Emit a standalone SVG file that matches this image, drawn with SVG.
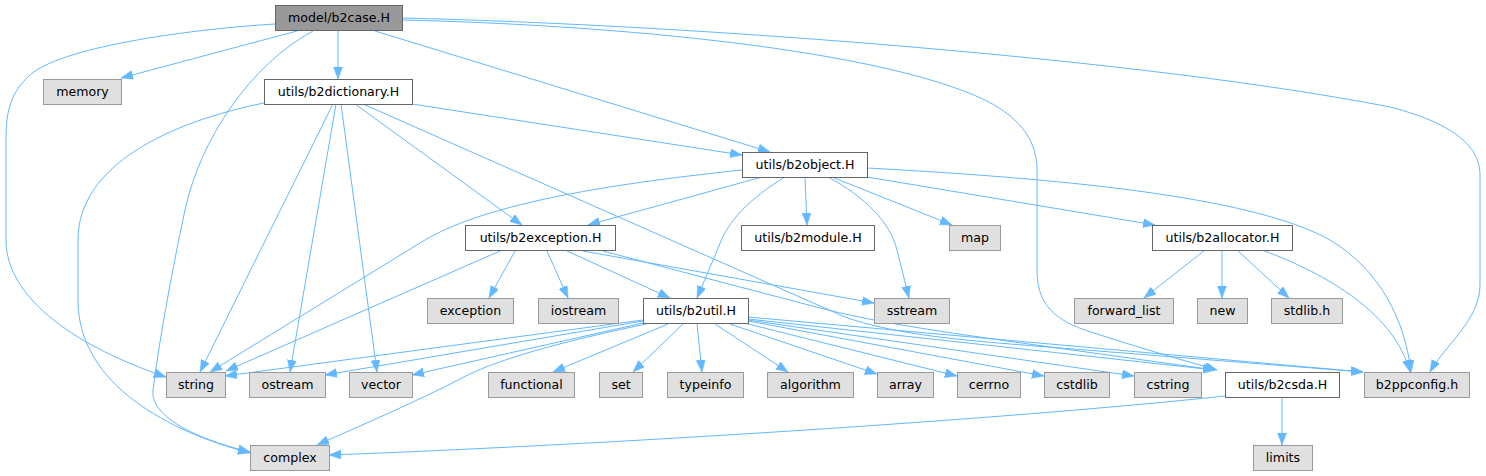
<svg xmlns="http://www.w3.org/2000/svg" width="1486" height="476" viewBox="0 0 1486 476">
<style>
.n rect{stroke-width:1}
.int rect{fill:#ffffff;stroke:#666666}
.ext rect{fill:#e0e0e0;stroke:#999999}
.root rect{fill:#999999;stroke:#666666}
text{font-family:"DejaVu Sans","Liberation Sans",sans-serif;font-size:12.6px;fill:#000000;text-anchor:middle}
#edges path{fill:none;stroke:#63b8ff;stroke-width:1;marker-end:url(#arr)}
</style>
<defs>
<marker id="arr" markerUnits="userSpaceOnUse" markerWidth="13" markerHeight="10" refX="12" refY="4.5" orient="auto">
<path d="M0,0 L12,4.5 L0,9 z" fill="#63b8ff" stroke="#63b8ff" stroke-width="0.5"/>
</marker>
</defs>
<rect width="1486" height="476" fill="#ffffff"/>
<g id="edges">
<path d="M297,31 L121,78"/>
<path d="M338,31 L338,79"/>
<path d="M275,24 C180,30 60,48 30,75 C10,93 6,112 6,140 L6,240 C6,300 80,348 166,377"/>
<path d="M313,31 C250,65 200,140 185,210 C170,280 158,350 153,390 C150,418 200,440 250,452"/>
<path d="M375,31 L770,152"/>
<path d="M402,20 C620,25 880,50 985,100 C1025,120 1037,145 1037,170 L1037,270 C1037,300 1050,318 1085,330 C1130,345 1175,358 1217,370"/>
<path d="M402,18 C700,25 1150,60 1390,107 C1460,125 1480,150 1480,175 L1480,285 C1480,320 1445,345 1430,372"/>
<path d="M264,103 C170,122 78,165 78,240 L78,300 C78,385 170,432 250,453"/>
<path d="M333,104 L200,372"/>
<path d="M336,104 L290,372"/>
<path d="M341,104 L377,372"/>
<path d="M355,104 L522,225"/>
<path d="M412,104 L742,155"/>
<path d="M363,104 L845,317 C890,333 950,339 1010,344 L1363,372"/>
<path d="M742,170 C600,185 480,205 420,243 L210,372"/>
<path d="M762,177 L588,225"/>
<path d="M785,177 C750,198 727,222 719,246 L697,298"/>
<path d="M805,177 L807,225"/>
<path d="M828,177 C865,197 890,222 897,250 L909,298"/>
<path d="M832,177 L952,225"/>
<path d="M867,177 L1155,225"/>
<path d="M867,168 C1050,178 1250,195 1330,240 C1380,270 1405,320 1411,372"/>
<path d="M500,251 L226,371"/>
<path d="M515,251 L489,298"/>
<path d="M547,251 L568,298"/>
<path d="M567,251 L670,298"/>
<path d="M583,251 L874,303"/>
<path d="M603,251 L820,308 C870,321 930,330 1000,340 L1215,370"/>
<path d="M1205,250 L1144,298"/>
<path d="M1222,250 L1222,298"/>
<path d="M1237,250 L1289,298"/>
<path d="M1262,250 C1330,275 1395,315 1410,372"/>
<path d="M748,317 L1363,372"/>
<path d="M748,319 L1215,370"/>
<path d="M748,320 L1134,376"/>
<path d="M748,321 L1044,376"/>
<path d="M744,323 L957,376"/>
<path d="M730,324 L877,374"/>
<path d="M715,324 L788,372"/>
<path d="M697,324 L702,372"/>
<path d="M683,324 L633,372"/>
<path d="M668,324 L553,372"/>
<path d="M643,320 L225,376"/>
<path d="M643,321 L325,375"/>
<path d="M643,323 L412,375"/>
<path d="M646,324 C560,342 495,360 462,378 C420,400 362,425 317,445"/>
<path d="M1225,396 C1000,420 600,445 329,455"/>
<path d="M1282,397 L1282,445"/>
</g>
<g id="n_case" class="n root"><rect x="275.5" y="5.5" width="127" height="25"/><text x="339" y="22">model/b2case.H</text></g>
<g id="n_memory" class="n ext"><rect x="43.5" y="79.5" width="78" height="25"/><text x="82.5" y="96">memory</text></g>
<g id="n_dict" class="n int"><rect x="264.5" y="79.5" width="148" height="25"/><text x="338.5" y="96">utils/b2dictionary.H</text></g>
<g id="n_object" class="n int"><rect x="742.5" y="152.5" width="125" height="25"/><text x="805" y="169">utils/b2object.H</text></g>
<g id="n_b2exception" class="n int"><rect x="465.5" y="225.5" width="150" height="25"/><text x="540.5" y="242">utils/b2exception.H</text></g>
<g id="n_module" class="n int"><rect x="741.5" y="225.5" width="133" height="25"/><text x="808" y="242">utils/b2module.H</text></g>
<g id="n_map" class="n ext"><rect x="949.5" y="225.5" width="51" height="25"/><text x="975" y="242">map</text></g>
<g id="n_allocator" class="n int"><rect x="1152.5" y="225.5" width="140" height="25"/><text x="1222.5" y="242">utils/b2allocator.H</text></g>
<g id="n_exception" class="n ext"><rect x="427.5" y="298.5" width="86" height="25"/><text x="470.5" y="315">exception</text></g>
<g id="n_iostream" class="n ext"><rect x="538.5" y="298.5" width="80" height="25"/><text x="578.5" y="315">iostream</text></g>
<g id="n_util" class="n int"><rect x="643.5" y="298.5" width="105" height="25"/><text x="696" y="315">utils/b2util.H</text></g>
<g id="n_sstream" class="n ext"><rect x="874.5" y="298.5" width="75" height="25"/><text x="912" y="315">sstream</text></g>
<g id="n_forward_list" class="n ext"><rect x="1074.5" y="298.5" width="99" height="25"/><text x="1124" y="315">forward_list</text></g>
<g id="n_new" class="n ext"><rect x="1197.5" y="298.5" width="50" height="25"/><text x="1222.5" y="315">new</text></g>
<g id="n_stdlib" class="n ext"><rect x="1271.5" y="298.5" width="71" height="25"/><text x="1307" y="315">stdlib.h</text></g>
<g id="n_string" class="n ext"><rect x="166.5" y="372.5" width="59" height="25"/><text x="196" y="389">string</text></g>
<g id="n_ostream" class="n ext"><rect x="249.5" y="372.5" width="76" height="25"/><text x="287.5" y="389">ostream</text></g>
<g id="n_vector" class="n ext"><rect x="349.5" y="372.5" width="63" height="25"/><text x="381" y="389">vector</text></g>
<g id="n_functional" class="n ext"><rect x="488.5" y="372.5" width="86" height="25"/><text x="531.5" y="389">functional</text></g>
<g id="n_set" class="n ext"><rect x="599.5" y="372.5" width="43" height="25"/><text x="621" y="389">set</text></g>
<g id="n_typeinfo" class="n ext"><rect x="667.5" y="372.5" width="76" height="25"/><text x="705.5" y="389">typeinfo</text></g>
<g id="n_algorithm" class="n ext"><rect x="767.5" y="372.5" width="86" height="25"/><text x="810.5" y="389">algorithm</text></g>
<g id="n_array" class="n ext"><rect x="877.5" y="372.5" width="56" height="25"/><text x="905.5" y="389">array</text></g>
<g id="n_cerrno" class="n ext"><rect x="957.5" y="372.5" width="63" height="25"/><text x="989" y="389">cerrno</text></g>
<g id="n_cstdlib" class="n ext"><rect x="1044.5" y="372.5" width="65" height="25"/><text x="1077" y="389">cstdlib</text></g>
<g id="n_cstring" class="n ext"><rect x="1134.5" y="372.5" width="67" height="25"/><text x="1168" y="389">cstring</text></g>
<g id="n_csda" class="n int"><rect x="1225.5" y="372.5" width="114" height="25"/><text x="1282.5" y="389">utils/b2csda.H</text></g>
<g id="n_b2ppconfig" class="n ext"><rect x="1364.5" y="372.5" width="105" height="25"/><text x="1417" y="389">b2ppconfig.h</text></g>
<g id="n_complex" class="n ext"><rect x="250.5" y="445.5" width="79" height="25"/><text x="290" y="462">complex</text></g>
<g id="n_limits" class="n ext"><rect x="1253.5" y="445.5" width="59" height="25"/><text x="1283" y="462">limits</text></g>
</svg>
